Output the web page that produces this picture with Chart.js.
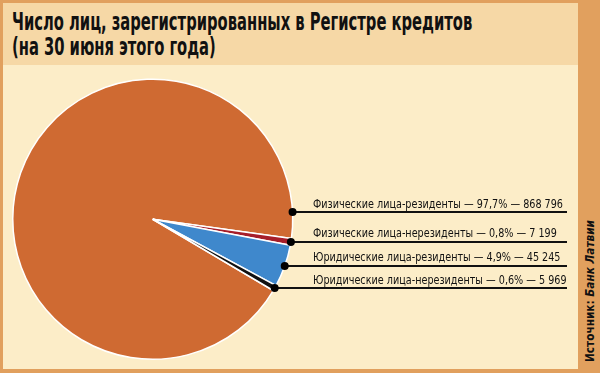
<!DOCTYPE html>
<html><head><meta charset="utf-8">
<script src="https://cdn.jsdelivr.net/npm/chart.js@4"></script>
<style>
html,body{margin:0;padding:0;}
body{width:600px;height:373px;background:#E1A05E;position:relative;overflow:hidden;}
#panel{position:absolute;left:3px;top:3px;width:575px;height:366px;background:#FCEDC8;}
#band{position:absolute;left:3px;top:3px;width:575px;height:62px;background:#F6D8A6;}
.t{position:absolute;left:12px;font:bold 24px "Liberation Sans Narrow","DejaVu Sans Condensed",sans-serif;color:#111;white-space:nowrap;transform-origin:0 0;line-height:24px;}
#srcwrap{position:absolute;left:510px;top:283px;width:160px;height:16px;transform:rotate(-90deg);transform-origin:50% 50%;}
#src{display:block;width:160px;height:16px;line-height:16px;text-align:center;font:bold 13px "Liberation Sans Narrow","DejaVu Sans Condensed",sans-serif;color:#111;white-space:nowrap;transform-origin:50% 50%;}
#src i{font-style:italic;}
canvas{position:absolute;left:0;top:0;}
</style>
</head><body>
<div id="panel"></div>
<div id="band"></div>
<div class="t" id="t1" style="top:10px">Число лиц, зарегистрированных в Регистре кредитов</div>
<div class="t" id="t2" style="top:35px">(на 30 июня этого года)</div>
<div id="srcwrap"><span id="src">Источник: <i>Банк Латвии</i></span></div>
<canvas id="c" width="600" height="373"></canvas>
<script>
const categories = ["Физические лица-резиденты","Физические лица-нерезиденты","Юридические лица-резиденты","Юридические лица-нерезиденты"];
const counts = [868796, 7199, 45245, 5969];
const percents = [97.7, 0.8, 4.9, 0.6];
const colors = ["#CF6A32","#A61E2A","#3F88CC","#111111"];

// fit title and source widths
(function(){
  const t1=document.getElementById('t1'), t2=document.getElementById('t2');
  const s = 460 / t1.offsetWidth;
  t1.style.transform = 'scaleX(' + s + ')';
  t2.style.transform = 'scaleX(' + s + ')';
  const src = document.getElementById('src');
  const r = document.createRange(); r.selectNodeContents(src);
  const w = r.getBoundingClientRect().height || r.getBoundingClientRect().width;
  const sw = 142 / w;
  if (isFinite(sw) && sw > 0.5 && sw < 1.5) src.style.transform = 'scaleX(' + sw + ')';
})();

function fmtNum(n){ return String(n).replace(/\B(?=(\d{3})+(?!\d))/g, ' '); }
function fmtPct(p){ return p.toFixed(1).replace('.', ',') + '%'; }
const labelTexts = categories.map((c,i)=> c + ' — ' + fmtPct(percents[i]) + ' — ' + fmtNum(counts[i]));

const leaderPlugin = {
  id:'leaders',
  afterDraw(chart){
    const ctx = chart.ctx;
    const meta = chart.getDatasetMeta(0);
    ctx.save();
    ctx.font = '12.5px "Liberation Sans Narrow","DejaVu Sans Condensed",sans-serif';
    const w0 = ctx.measureText(labelTexts[0]).width;
    const sx = 250 / w0;
    meta.data.forEach((arc, i) => {
      const p = arc.getProps(['x','y','startAngle','endAngle','outerRadius'], true);
      let a = (p.startAngle + p.endAngle) / 2;
      if (i === 0) a = p.endAngle - 0.19;
      const dx = p.x + p.outerRadius * Math.cos(a);
      const dy = p.y + p.outerRadius * Math.sin(a);
      ctx.strokeStyle = '#111';
      ctx.lineWidth = 2;
      ctx.beginPath();
      ctx.moveTo(dx, dy);
      ctx.lineTo(567, dy);
      ctx.stroke();
      ctx.fillStyle = '#000';
      ctx.beginPath();
      ctx.arc(dx, dy, 4, 0, Math.PI*2);
      ctx.fill();
      ctx.save();
      ctx.translate(313, dy - 4.5);
      ctx.scale(sx, 1);
      ctx.fillStyle = '#111';
      ctx.textBaseline = 'alphabetic';
      ctx.fillText(labelTexts[i], 0, 0);
      ctx.restore();
    });
    ctx.restore();
  }
};

new Chart(document.getElementById('c'), {
  type: 'pie',
  data: {
    labels: categories,
    datasets: [{
      data: counts,
      backgroundColor: colors,
      borderColor: '#FFFFFF',
      borderWidth: 1.5
    }]
  },
  options: {
    responsive: false,
    devicePixelRatio: 1,
    animation: false,
    rotation: 120.6,
    layout: { padding: { left: 12, top: 78.5, right: 306.5, bottom: 13 } },
    plugins: { legend: { display: false }, tooltip: { enabled: false }, title: { display: false } }
  },
  plugins: [leaderPlugin]
});
</script>
</body></html>
